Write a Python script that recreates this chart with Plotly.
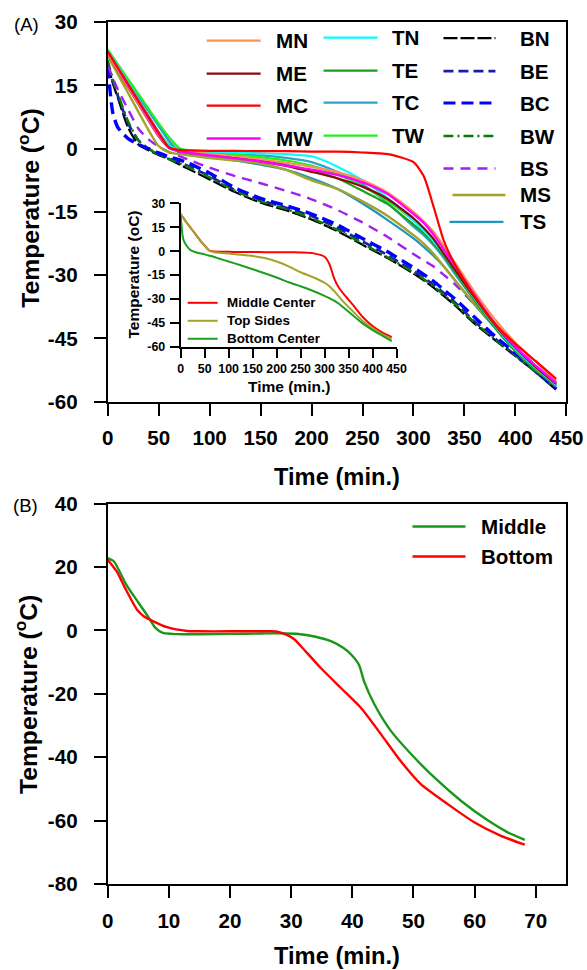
import plotly.graph_objects as go

# ---------------------------------------------------------------------------
# (A) Freezing curves at 15 positions of the load (min, degC)
# ---------------------------------------------------------------------------
time_min = [0, 5, 10, 20, 30, 40, 50, 60, 70, 80, 100, 125, 150, 175, 200, 225,
            250, 275, 300, 310, 320, 330, 340, 360, 380, 400, 420, 440]

MN = [22.5, 20.6, 18.6, 14.7, 10.8, 6.9, 3.1, 0.3, -0.5, -0.8, -1.2, -1.8, -2.5, -3.3,
      -4.3, -5.5, -7.5, -10.5, -15.0, -17.2, -19.8, -23.2, -26.8, -34.0, -40.5, -46.0, -50.5, -55.2]
ME = [22.5, 20.5, 18.5, 14.5, 10.6, 6.7, 2.9, 0.2, -0.6, -1.0, -1.5, -2.2, -3.0, -4.1,
      -5.5, -7.0, -9.0, -12.0, -16.5, -18.8, -21.5, -25.0, -28.5, -35.3, -41.8, -47.2, -51.8, -55.8]
MC = [23.0, 21.1, 19.2, 15.3, 11.4, 7.6, 3.8, 0.3, -0.3, -0.4, -0.5, -0.5, -0.6, -0.6,
      -0.7, -0.7, -0.9, -1.3, -3.2, -6.5, -14.0, -22.0, -27.2, -35.0, -41.5, -46.3, -50.4, -54.6]
MW = [23.0, 21.1, 19.1, 15.1, 11.2, 7.2, 3.4, 0.3, -0.6, -1.0, -1.6, -2.3, -3.0, -4.0,
      -5.0, -6.2, -8.0, -10.8, -15.5, -17.6, -20.5, -24.0, -27.5, -34.8, -41.5, -47.0, -51.5, -55.5]
MS = [22.0, 19.8, 17.6, 13.2, 8.8, 4.4, 0.6, -0.8, -1.3, -1.6, -2.2, -2.8, -3.5, -5.0,
      -7.5, -9.5, -12.5, -16.0, -20.5, -22.5, -25.0, -28.0, -31.0, -36.8, -42.3, -47.6, -52.0, -56.0]
TN = [23.0, 21.3, 19.5, 15.6, 11.7, 7.8, 4.0, 0.8, -0.3, -0.5, -0.7, -0.9, -1.1, -1.3,
      -1.8, -4.2, -7.5, -11.8, -17.0, -19.4, -22.0, -25.0, -28.5, -35.5, -42.0, -47.5, -52.0, -56.0]
TE = [23.0, 21.2, 19.4, 15.5, 11.6, 7.7, 3.9, 0.9, -0.5, -0.8, -1.2, -1.8, -2.6, -3.8,
      -5.2, -7.0, -10.0, -13.2, -18.0, -20.0, -22.5, -25.5, -29.0, -36.0, -42.5, -48.0, -52.5, -56.2]
TC = [23.0, 21.3, 19.5, 16.0, 12.5, 9.0, 5.4, 1.9, -0.5, -1.0, -1.2, -1.4, -1.6, -2.2,
      -3.2, -5.5, -8.5, -13.0, -18.5, -20.5, -23.0, -26.0, -29.5, -36.0, -42.5, -48.0, -52.5, -56.2]
TW = [23.5, 21.8, 20.0, 16.5, 13.0, 9.5, 6.0, 2.8, 0.2, -0.4, -0.8, -1.3, -2.0, -2.8,
      -4.0, -6.0, -9.0, -12.5, -17.0, -19.3, -22.0, -25.0, -28.5, -35.5, -42.0, -47.5, -52.0, -56.0]
TS = [23.0, 21.3, 19.5, 16.0, 12.5, 9.0, 5.4, 1.9, -1.0, -1.5, -2.0, -2.8, -3.8, -5.0,
      -7.0, -9.5, -13.0, -17.0, -21.3, -23.3, -25.5, -28.0, -31.0, -37.0, -42.5, -48.0, -52.5, -56.2]
BN = [20.0, 15.5, 12.0, 5.0, 1.0, -0.4, -1.5, -2.5, -3.7, -4.9, -7.3, -10.3, -12.8, -14.6,
      -16.8, -19.5, -22.8, -26.0, -29.6, -31.2, -33.0, -35.0, -37.0, -41.5, -45.4, -49.2, -53.0, -57.2]
BE = [20.0, 16.0, 12.5, 6.0, 2.0, 0.0, -1.3, -2.3, -3.2, -4.2, -6.5, -9.8, -12.2, -14.0,
      -16.0, -18.7, -22.0, -25.3, -29.0, -30.6, -32.3, -34.3, -36.3, -41.0, -45.0, -49.0, -53.0, -57.0]
BC = [19.5, 8.5, 5.0, 2.4, 1.0, 0.0, -1.0, -1.9, -2.6, -3.5, -5.8, -9.3, -11.8, -13.5,
      -15.5, -18.0, -21.3, -24.5, -28.2, -29.8, -31.5, -33.5, -35.5, -40.0, -44.5, -48.5, -52.5, -57.0]
BW = [21.0, 16.5, 13.0, 6.5, 2.0, 0.0, -1.4, -2.4, -3.4, -4.5, -6.8, -10.0, -12.5, -14.3,
      -16.5, -19.2, -22.5, -25.8, -29.3, -30.9, -32.7, -34.7, -36.7, -41.2, -45.2, -49.0, -53.0, -57.0]
BS = [19.8, 16.8, 14.0, 9.3, 4.8, 2.2, 0.5, -0.8, -1.7, -2.7, -4.5, -6.5, -8.2, -10.0,
      -12.0, -14.5, -17.5, -21.0, -25.0, -26.5, -28.0, -30.0, -32.0, -37.0, -42.0, -47.0, -51.5, -56.5]

# inset: three representative positions
middle_center = [23.4, 21.2, 19.0, 15.0, 11.0, 7.0, 3.5, 0.3, -0.2, -0.3, -0.4, -0.5, -0.5, -0.6,
                 -0.6, -0.6, -0.8, -1.2, -3.5, -8.0, -17.0, -23.0, -27.0, -34.0, -41.5, -47.0, -51.0, -54.0]
top_sides = [23.4, 21.2, 19.0, 15.0, 11.0, 7.0, 3.5, 0.3, -0.6, -1.0, -1.5, -2.2, -3.0, -4.3,
             -6.5, -9.5, -13.2, -16.2, -19.8, -22.0, -25.0, -28.5, -32.0, -38.0, -44.0, -48.5, -52.0, -55.0]
bottom_center = [22.0, 8.0, 4.5, 0.8, -0.5, -1.3, -2.0, -2.8, -3.6, -4.6, -6.5, -8.8, -11.3, -13.8,
                 -16.5, -19.5, -22.0, -24.8, -28.0, -29.5, -31.0, -33.0, -35.5, -40.5, -45.5, -49.5, -53.0, -56.5]

# ---------------------------------------------------------------------------
# (B) Middle vs bottom (min, degC)
# ---------------------------------------------------------------------------
b_middle_t = [0, 1.0, 3.0, 5.0, 6.5, 7.8, 9.0, 10.5, 12.5, 15, 20, 25, 28, 31.5, 34, 36.5,
              38.5, 39.8, 41.1, 41.9, 43.6, 46.3, 49.6, 53.4, 57.8, 62.2, 65.4, 68.2]
b_middle_y = [22.8, 21.8, 14.5, 8.8, 4.6, 0.8, -0.8, -1.1, -1.2, -1.2, -1.1, -1.0, -0.9, -1.2,
              -2.0, -3.4, -5.5, -7.6, -10.9, -16.0, -23.3, -31.7, -39.0, -46.4, -53.8, -60.0, -63.7, -66.1]
b_bottom_t = [0, 1.5, 2.8, 4.8, 6.0, 7.2, 9.7, 13.0, 15, 20, 25, 27.5, 29, 30.5, 31.6, 34.8,
              38.1, 41.4, 44.7, 47.9, 51.2, 55.6, 60.0, 64.3, 68.2]
b_bottom_y = [22.3, 18.5, 13.5, 6.5, 4.3, 3.1, 1.0, -0.2, -0.3, -0.3, -0.3, -0.3, -1.2, -2.8,
              -5.0, -11.8, -18.1, -24.4, -32.8, -41.2, -48.5, -54.8, -60.6, -64.8, -67.6]

# tick labels
a_xticks = [0, 50, 100, 150, 200, 250, 300, 350, 400, 450]
a_yticks = [-60, -45, -30, -15, 0, 15, 30]
b_xticks = [0, 10, 20, 30, 40, 50, 60, 70]
b_yticks = [-80, -60, -40, -20, 0, 20, 40]

# ---------------------------------------------------------------------------
# page geometry: positions below are given in final image pixels (587 x 970).
# The captured page is slightly reduced and offset relative to the figure,
# so image pixels are mapped to figure pixels with a linear correction.
W, H = 594, 987
SX, OX = 0.962, 5.2
SY, OY = 0.978, 9.8
FONT = "Liberation Sans, Arial, Helvetica, sans-serif"


def px(x):
    """image x (px) -> paper fraction"""
    return ((x - OX) / SX) / W


def py(y):
    """image y (px, from top) -> paper fraction"""
    return 1 - ((y - OY) / SY) / H


def fs(size):
    """font size in image px -> figure px"""
    return round(size / 0.97, 1)


series_a = {
    "BN": (BN, dict(color="#000000", width=2.2, dash="14px,3px")),
    "BE": (BE, dict(color="#1C1CA8", width=2.6, dash="10px,5px")),
    "BW": (BW, dict(color="#0A7A0A", width=2.4, dash="10px,4px,2px,4px")),
    "BC": (BC, dict(color="#0000FF", width=3.4, dash="12px,6px")),
    "BS": (BS, dict(color="#A020F0", width=2.4, dash="10px,7px")),
    "TS": (TS, dict(color="#1E96C0", width=2.2)),
    "TC": (TC, dict(color="#2AA6C8", width=2.2)),
    "MS": (MS, dict(color="#A3A32A", width=2.4)),
    "TE": (TE, dict(color="#1E9E1E", width=2.2)),
    "TW": (TW, dict(color="#22EE22", width=2.2)),
    "TN": (TN, dict(color="#00FFFF", width=2.2)),
    "ME": (ME, dict(color="#8B0A0A", width=2.2)),
    "MN": (MN, dict(color="#FF9050", width=2.2)),
    "MW": (MW, dict(color="#FF00FF", width=2.4)),
    "MC": (MC, dict(color="#FF0000", width=2.2)),
}

fig = go.Figure()

for name, (vals, style) in series_a.items():
    fig.add_trace(go.Scatter(x=time_min, y=vals, mode="lines", name=name,
                             line=dict(shape="spline", smoothing=0.6, **style),
                             xaxis="x", yaxis="y", showlegend=False))

inset = [("Middle Center", middle_center, "#FF0000"),
         ("Top Sides", top_sides, "#A3A32A"),
         ("Bottom Center", bottom_center, "#1E9E1E")]
for name, vals, col in inset:
    fig.add_trace(go.Scatter(x=time_min, y=vals, mode="lines", name=name,
                             line=dict(color=col, width=2, shape="spline", smoothing=0.6),
                             xaxis="x2", yaxis="y2", showlegend=False))

panel_b = [("Middle", b_middle_t, b_middle_y, "#1A961A"),
           ("Bottom", b_bottom_t, b_bottom_y, "#FF0000")]
for name, t, vals, col in panel_b:
    fig.add_trace(go.Scatter(x=t, y=vals, mode="lines", name=name,
                             line=dict(color=col, width=2.4, shape="spline", smoothing=0.6),
                             xaxis="x3", yaxis="y3", showlegend=False))

# ---------------------------------------------------------------------------
# axes
tick_big = dict(family=FONT, size=fs(20), color="black", weight="bold")
tick_small = dict(family=FONT, size=fs(12), color="black", weight="bold")
frame = dict(showline=True, linecolor="black", linewidth=2, ticks="outside",
             tickcolor="black", tickwidth=2, showgrid=False, zeroline=False, tickangle=0)

fig.update_layout(
    xaxis=dict(domain=[px(107), px(566)], range=[0, 450], anchor="y", mirror=True,
               tickvals=a_xticks, ticktext=[str(v) for v in a_xticks], ticklen=12,
               ticklabelstandoff=5, tickfont=tick_big, **frame),
    yaxis=dict(domain=[py(400), py(20)], range=[-60, 30], anchor="x", mirror=True,
               tickvals=a_yticks, ticktext=[str(v) for v in a_yticks], ticklen=12,
               ticklabelstandoff=12, tickfont=tick_big, **frame),
    xaxis2=dict(domain=[px(180), px(396)], range=[0, 450], anchor="y2",
                tickvals=a_xticks, ticktext=[str(v) for v in a_xticks], ticklen=9,
                tickfont=tick_small, **frame),
    yaxis2=dict(domain=[py(345), py(201.5)], range=[-60, 30], anchor="x2",
                tickvals=a_yticks, ticktext=[str(v) for v in a_yticks], ticklen=9,
                ticklabelstandoff=2, tickfont=tick_small, **frame),
    xaxis3=dict(domain=[px(107), px(566)], range=[0, 75], anchor="y3", mirror=True,
                tickvals=b_xticks, ticktext=[str(v) for v in b_xticks], ticklen=12,
                ticklabelstandoff=5, tickfont=tick_big, **frame),
    yaxis3=dict(domain=[py(883), py(502)], range=[-80, 40], anchor="x3", mirror=True,
                tickvals=b_yticks, ticktext=[str(v) for v in b_yticks], ticklen=12,
                ticklabelstandoff=12, tickfont=tick_big, **frame),
)

# ---------------------------------------------------------------------------
# titles and panel labels
ann = []


def label(text, x, y, size, bold=True, angle=0, xanchor="center"):
    ann.append(dict(text=text, x=px(x), y=py(y), xref="paper", yref="paper",
                    xanchor=xanchor, yanchor="middle", showarrow=False, textangle=angle,
                    font=dict(family=FONT, size=fs(size), color="black",
                              weight="bold" if bold else "normal")))


label("(A)", 11, 22, 18, bold=False, xanchor="left")
label("(B)", 10, 504, 18, bold=False, xanchor="left")
label("Time (min.)", 336.5, 475, 23)
label("Temperature (<sup>o</sup>C)", 28, 206, 24, angle=-90)
label("Time (min.)", 336.5, 955, 23)
label("Temperature (<sup>o</sup>C)", 25, 693, 24, angle=-90)
label("Time (min.)", 288, 385, 15)
label("Temperature (oC)", 133, 273, 15, angle=-90)

# legend of panel A: sample line start/end x, row y, text x
legend_a = [
    ("MN", 206, 260, 38.5, 273), ("ME", 206, 260, 71.5, 273),
    ("MC", 206, 260, 103.5, 273), ("MW", 206, 260, 136.5, 273),
    ("TN", 323, 377, 35.5, 389), ("TE", 323, 377, 68.5, 389),
    ("TC", 323, 377, 100.5, 389), ("TW", 323, 377, 133.5, 389),
    ("BN", 443, 495, 36, 518), ("BE", 443, 495, 69, 518),
    ("BC", 443, 495, 101, 518), ("BW", 443, 495, 134, 518),
    ("BS", 443, 495, 166.5, 518), ("MS", 452, 505, 193, 518),
    ("TS", 449, 503, 220, 518),
]
shapes = []
for name, x0, x1, y, xt in legend_a:
    style = dict(series_a[name][1])
    style["width"] = min(style["width"], 3.0)
    shapes.append(dict(type="line", xref="paper", yref="paper",
                       x0=px(x0), x1=px(x1), y0=py(y), y1=py(y), line=style))
    label(name, xt, y, 20, xanchor="left")

legend_inset = [(inset[0], 301), (inset[1], 319), (inset[2], 337)]
for (name, _, col), y in legend_inset:
    shapes.append(dict(type="line", xref="paper", yref="paper",
                       x0=px(187), x1=px(217), y0=py(y), y1=py(y),
                       line=dict(color=col, width=2)))
    label(name, 224, y, 13, xanchor="left")

legend_b = [(panel_b[0], 525), (panel_b[1], 555)]
for (name, _, _, col), y in legend_b:
    shapes.append(dict(type="line", xref="paper", yref="paper",
                       x0=px(412), x1=px(465), y0=py(y), y1=py(y),
                       line=dict(color=col, width=2.4)))
    label(name, 479, y, 20, xanchor="left")

fig.update_layout(
    width=W, height=H, autosize=False,
    margin=dict(l=0, r=0, t=0, b=0),
    paper_bgcolor="white", plot_bgcolor="rgba(0,0,0,0)",
    font=dict(family=FONT, color="black"),
    annotations=ann, shapes=shapes, showlegend=False,
)

fig.write_html("out.html")
